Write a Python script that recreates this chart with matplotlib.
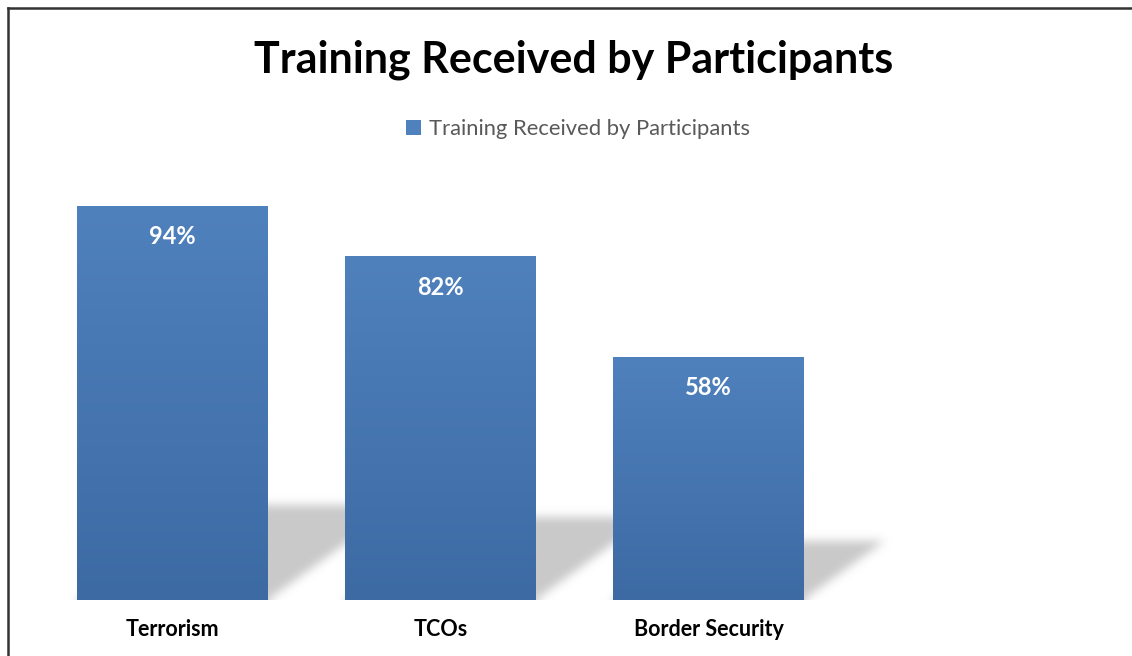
import numpy as np
import matplotlib
matplotlib.use("Agg")
from matplotlib import pyplot as plt
from matplotlib.lines import Line2D
from matplotlib.patches import Patch
from matplotlib.colors import LinearSegmentedColormap

# data
categories = ["Terrorism", "TCOs", "Border Security"]
values = [94, 82, 58]
series_name = "Training Received by Participants"
title = "Training Received by Participants"

plt.rcParams['font.family'] = ['Lato', 'DejaVu Sans']

W, H = 1132, 656
fig = plt.figure(figsize=(W / 100, H / 100), dpi=100)
fig.patch.set_facecolor("white")

# axes placed so bars land where the reference has them
base_px, top_px = 600, 170
ax = fig.add_axes([0, (H - base_px) / H, 1, (base_px - top_px) / H])
px_per_cat = 268.0
first_center = 172.5
xlim = ((0 - first_center) / px_per_cat, (W - first_center) / px_per_cat)
px_per_unit = 394 / 94.0
ylim = (0, (base_px - top_px) / px_per_unit)
ax.set_xlim(*xlim)
ax.set_ylim(*ylim)

x = np.arange(len(categories))
bar_w = 191 / px_per_cat

# soft perspective shadow behind each bar
nx, ny = W, base_px - top_px
gx = np.linspace(xlim[0], xlim[1], nx)
gy = np.linspace(ylim[0], ylim[1], ny)
XX, YY = np.meshgrid(gx, gy)
mask = np.zeros_like(XX)
for xi, v in zip(x, values):
    sh = 0.24 * v
    slant = 0.0216
    inside = (YY <= sh) & (XX >= xi - bar_w / 2 + YY * slant) & (XX <= xi + bar_w / 2 + YY * slant)
    mask[inside] = 1.0


def box_blur(a, r):
    for axis in (0, 1):
        pad = [(0, 0), (0, 0)]
        pad[axis] = (r + 1, r)
        c = np.cumsum(np.pad(a, pad, mode="edge"), axis=axis)
        if axis == 0:
            a = (c[2 * r + 1:, :] - c[:-2 * r - 1, :]) / (2 * r + 1)
        else:
            a = (c[:, 2 * r + 1:] - c[:, :-2 * r - 1]) / (2 * r + 1)
    return a


for _ in range(3):
    mask = box_blur(mask, 4)
rgba = np.zeros((ny, nx, 4))
rgba[..., :3] = 0.79
rgba[..., 3] = np.clip(mask, 0, 1)
ax.imshow(rgba, extent=[xlim[0], xlim[1], ylim[0], ylim[1]], origin="lower",
          aspect="auto", zorder=1, interpolation="bilinear")

# bars with vertical gradient
bars = ax.bar(x, values, width=bar_w, color="#4F81BD", zorder=2)
cmap = LinearSegmentedColormap.from_list("bar", ["#3D6AA3", "#4F81BD"])
grad = np.linspace(0, 1, 256).reshape(-1, 1)
for b in bars:
    bx, bw, bh = b.get_x(), b.get_width(), b.get_height()
    im = ax.imshow(grad, cmap=cmap, extent=[bx, bx + bw, 0, bh], origin="lower",
                   aspect="auto", zorder=3)
    im.set_clip_path(b)

for xi, v in zip(x, values):
    ax.annotate(f"{v}%", (xi, v), xytext=(0, -31), textcoords="offset pixels",
                ha="center", va="center", color="white", fontsize=17,
                fontweight="bold", zorder=4)

ax.set_xticks(x, categories)
ax.tick_params(axis="x", length=0, pad=14, labelsize=15.5, labelcolor="black")
for lab in ax.get_xticklabels():
    lab.set_fontweight("bold")
ax.set_yticks([])
for s in ax.spines.values():
    s.set_visible(False)
ax.patch.set_alpha(0)

fig.text(574 / W, 1 - 60 / H, title, ha="center", va="center",
         fontsize=31, fontweight="bold", color="black")

handle = Patch(facecolor="#4F81BD", edgecolor="none")
fig.legend([handle], [series_name], loc="center", bbox_to_anchor=(578 / W, 1 - 129 / H),
           frameon=False, fontsize=15.8, labelcolor="#595959",
           handlelength=0.7, handleheight=0.7, handletextpad=0.35)

# frame lines at top and left
fig.add_artist(Line2D([8 / W, 8 / W], [0, 1 - 8 / H], color="#333333", lw=1.8,
                      transform=fig.transFigure))
fig.add_artist(Line2D([8 / W, 1], [1 - 8 / H, 1 - 8 / H], color="#333333", lw=1.8,
                      transform=fig.transFigure))

fig.savefig("out.png", dpi=100)
